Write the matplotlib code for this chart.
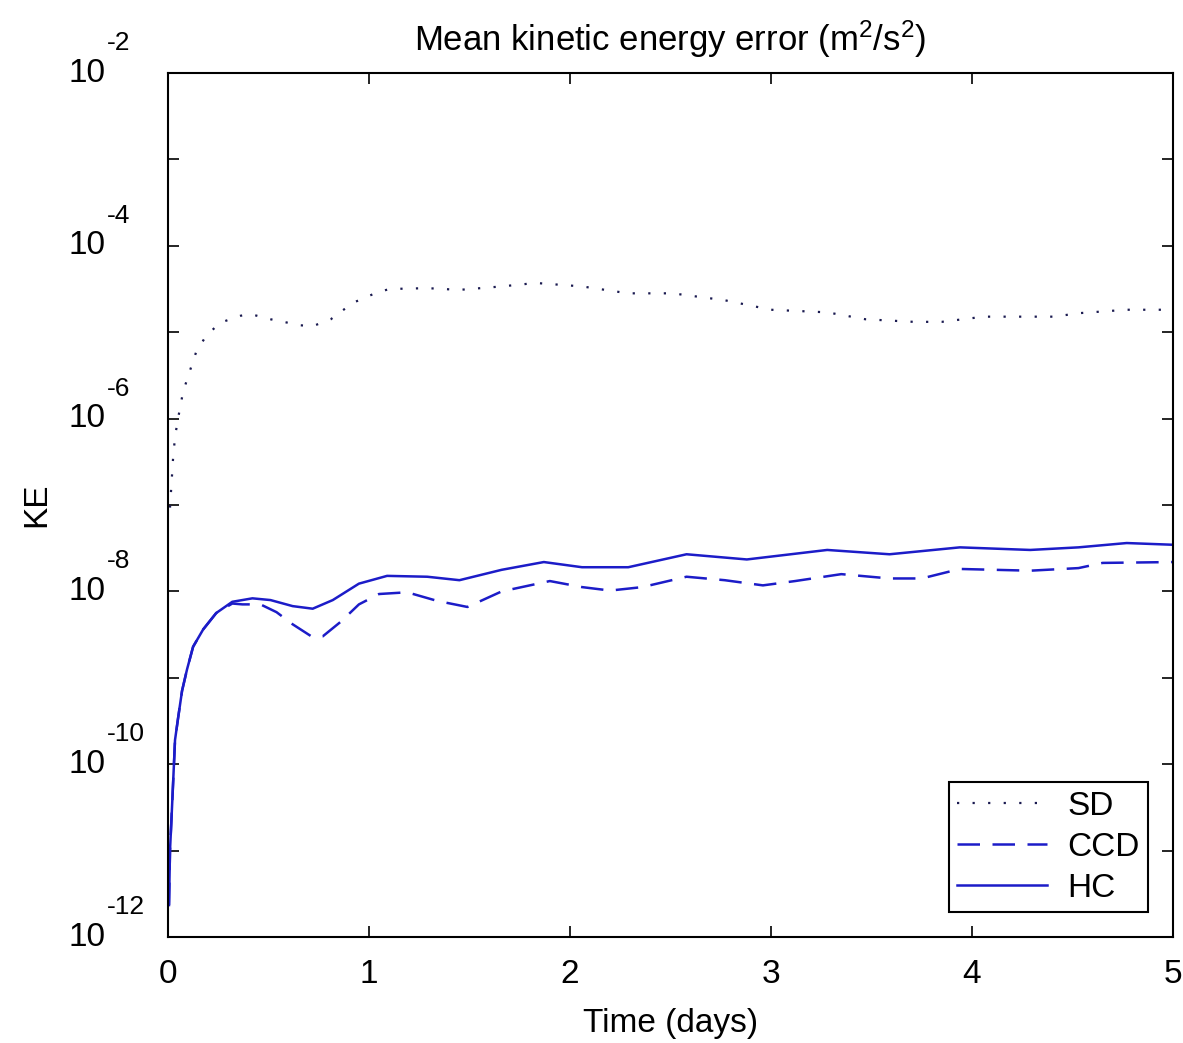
import matplotlib
matplotlib.use("Agg")
import matplotlib.pyplot as plt
import matplotlib.transforms as mtransforms
import numpy as np

plt.rcParams['font.family'] = ['Liberation Sans', 'DejaVu Sans']
plt.rcParams['mathtext.fontset'] = 'custom'
plt.rcParams['mathtext.rm'] = 'Liberation Sans'
plt.rcParams['mathtext.it'] = 'Liberation Sans'
plt.rcParams['mathtext.default'] = 'regular'

# SD (dotted)
t_sd = [0.01, 0.025, 0.035, 0.05, 0.075, 0.11, 0.14, 0.19, 0.26, 0.36, 0.41, 0.51,
        0.66, 0.72, 0.81, 0.92, 1.02, 1.10, 1.29, 1.45, 1.66, 1.83, 2.06, 2.29, 2.51,
        2.77, 3.0, 3.28, 3.47, 3.71, 3.85, 4.06, 4.41, 4.53, 4.77, 5.0]
log_sd = [-7.03, -6.47, -6.21, -6.0, -5.69, -5.44, -5.23, -5.04, -4.89, -4.81, -4.79, -4.85,
          -4.92, -4.93, -4.85, -4.66, -4.56, -4.50, -4.49, -4.51, -4.47, -4.43, -4.47, -4.55, -4.55,
          -4.63, -4.74, -4.77, -4.85, -4.88, -4.88, -4.82, -4.82, -4.78, -4.74, -4.74]

# HC (solid)
t_hc = [0.005, 0.01, 0.02, 0.035, 0.05, 0.07, 0.095, 0.125, 0.175, 0.24, 0.32, 0.42, 0.51,
        0.62, 0.72, 0.82, 0.95, 1.09, 1.29, 1.45, 1.66, 1.87, 2.06, 2.29, 2.58, 2.88, 3.28,
        3.59, 3.94, 4.29, 4.53, 4.77, 5.0]
log_hc = [-11.63, -11.0, -10.5, -9.72, -9.47, -9.15, -8.9, -8.64, -8.44, -8.25, -8.12, -8.08, -8.10,
          -8.17, -8.20, -8.10, -7.91, -7.82, -7.83, -7.87, -7.75, -7.66, -7.72, -7.72, -7.57, -7.63, -7.52,
          -7.57, -7.49, -7.52, -7.49, -7.44, -7.46]

# CCD (dashed)
t_ccd = [0.005, 0.01, 0.02, 0.035, 0.05, 0.07, 0.095, 0.125, 0.175, 0.24, 0.32, 0.37, 0.46, 0.54,
         0.62, 0.72, 0.77, 0.86, 0.95, 1.05, 1.19, 1.34, 1.49, 1.66, 1.9, 2.06, 2.2, 2.36, 2.58,
         2.77, 2.96, 3.12, 3.35, 3.59, 3.75, 3.94, 4.29, 4.53, 4.65, 5.0]
log_ccd = [-11.63, -11.0, -10.5, -9.72, -9.47, -9.15, -8.9, -8.64, -8.44, -8.25, -8.14, -8.15, -8.15, -8.24,
           -8.38, -8.53, -8.52, -8.35, -8.15, -8.03, -8.01, -8.11, -8.18, -8.0, -7.88, -7.95, -7.99, -7.95, -7.83,
           -7.87, -7.93, -7.88, -7.80, -7.85, -7.85, -7.74, -7.76, -7.73, -7.67, -7.66]

y_exps = list(range(-12, -1))
y_label_exps = [-12, -10, -8, -6, -4, -2]

fig = plt.figure(figsize=(11.83, 10.43), dpi=100)
ax = fig.add_axes([0.142, 0.1016, 0.8495, 0.8284])

ax.plot(t_sd, 10.0 ** np.array(log_sd), color='#1a1a50', linestyle=(0, (1, 6)), linewidth=1.6, label='SD')
ax.plot(t_ccd, 10.0 ** np.array(log_ccd), color='#1c1cc8', linestyle=(0, (9, 5)), linewidth=1.8, label='CCD')
ax.plot(t_hc, 10.0 ** np.array(log_hc), color='#1c1cc8', linestyle='-', linewidth=1.8, label='HC')

ax.set_yscale('log')
ax.set_xlim(0, 5)
ax.set_ylim(1e-12, 1e-2)
ax.set_xticks([0, 1, 2, 3, 4, 5])
ax.set_yticks([10.0 ** e for e in y_exps])
ax.set_yticklabels([])
ax.minorticks_off()
ax.tick_params(direction='in', length=8, width=1.2, top=True, right=True, labelsize=24)
ax.tick_params(axis='x', pad=16)
for s in ax.spines.values():
    s.set_linewidth(1.5)

# y tick labels in the "10 with raised exponent" style
trans = mtransforms.blended_transform_factory(ax.transAxes, ax.transData)
for e in y_label_exps:
    ax.text(-0.062, 10.0 ** e, '10', transform=trans, ha='right', va='center', fontsize=24)
    ax.annotate('%d' % e, xy=(-0.062, 10.0 ** e), xycoords=trans, xytext=(1, 13),
                textcoords='offset points', ha='left', va='bottom', fontsize=19,
                annotation_clip=False)

ax.set_title('Mean kinetic energy error (m$^2$/s$^2$)', fontsize=25, pad=16)
ax.set_xlabel('Time (days)', fontsize=24, labelpad=13)
ax.set_ylabel('KE', fontsize=24, labelpad=80)

leg = ax.legend(loc='lower right', fontsize=24, fancybox=False, edgecolor='black', framealpha=1,
                handlelength=2.7, handletextpad=0.6, borderaxespad=0.75, labelspacing=0.3,
                borderpad=0.25)
leg.get_frame().set_linewidth(1.5)

fig.savefig('out.png', dpi=100)
